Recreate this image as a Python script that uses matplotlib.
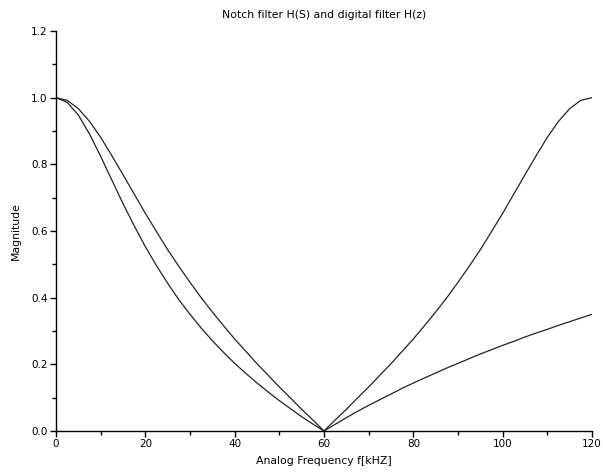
import numpy as np
import matplotlib
matplotlib.use('Agg')
import matplotlib.pyplot as plt
from matplotlib.ticker import MultipleLocator, FormatStrFormatter

# frequency samples (kHz), every 2.5 kHz
freq = [0, 2.5, 5, 7.5, 10, 12.5, 15, 17.5, 20, 22.5, 25, 27.5, 30, 32.5,
        35, 37.5, 40, 42.5, 45, 47.5, 50, 52.5, 55, 57.5, 60, 62.5, 65, 67.5,
        70, 72.5, 75, 77.5, 80, 82.5, 85, 87.5, 90, 92.5, 95, 97.5, 100,
        102.5, 105, 107.5, 110, 112.5, 115, 117.5, 120]

# analog notch |H(s)|
mag_analog = [1.0, 0.986, 0.948, 0.891, 0.824, 0.753, 0.682, 0.616, 0.553,
              0.496, 0.443, 0.394, 0.350, 0.309, 0.271, 0.236, 0.203, 0.173,
              0.144, 0.117, 0.091, 0.067, 0.043, 0.021, 0.0, 0.020, 0.040,
              0.059, 0.077, 0.094, 0.111, 0.128, 0.144, 0.159, 0.174, 0.189,
              0.203, 0.217, 0.231, 0.244, 0.257, 0.269, 0.282, 0.294, 0.305,
              0.317, 0.328, 0.339, 0.350]

# digital filter |H(z)|
mag_digital = [1.0, 0.992, 0.967, 0.929, 0.881, 0.826, 0.769, 0.711, 0.653,
               0.598, 0.544, 0.494, 0.446, 0.400, 0.357, 0.316, 0.276, 0.239,
               0.202, 0.167, 0.132, 0.099, 0.065, 0.033, 0.0, 0.033, 0.065,
               0.099, 0.132, 0.167, 0.202, 0.239, 0.276, 0.316, 0.357, 0.400,
               0.446, 0.494, 0.544, 0.598, 0.653, 0.711, 0.769, 0.826, 0.881,
               0.929, 0.967, 0.992, 1.0]

fig = plt.figure(figsize=(6.03, 4.74), dpi=100)
ax = fig.add_axes([56 / 603, 43 / 474, 536 / 603, 400 / 474])

ax.plot(freq, mag_analog, color='#222222', lw=0.9)
ax.plot(freq, mag_digital, color='#222222', lw=0.9)

ax.set_xlim(0, 120)
ax.set_ylim(0, 1.2)
ax.spines['top'].set_visible(False)
ax.spines['right'].set_visible(False)
for s in ('left', 'bottom'):
    ax.spines[s].set_linewidth(1.0)
    ax.spines[s].set_color('black')

ax.xaxis.set_major_locator(MultipleLocator(20))
ax.xaxis.set_minor_locator(MultipleLocator(10))
ax.yaxis.set_major_locator(MultipleLocator(0.2))
ax.yaxis.set_minor_locator(MultipleLocator(0.1))
ax.yaxis.set_major_formatter(FormatStrFormatter('%.1f'))
ax.tick_params(which='major', direction='out', length=4, width=1, labelsize=7.5, pad=2)
ax.tick_params(which='minor', direction='out', length=3, width=1)

ax.set_title('Notch filter H(S) and digital filter H(z)', fontsize=7.8, pad=9)
ax.set_xlabel('Analog Frequency f[kHZ]', fontsize=7.8, labelpad=5)
ax.set_ylabel('Magnitude', fontsize=7.8, labelpad=7)

fig.savefig('out.png', dpi=100)
